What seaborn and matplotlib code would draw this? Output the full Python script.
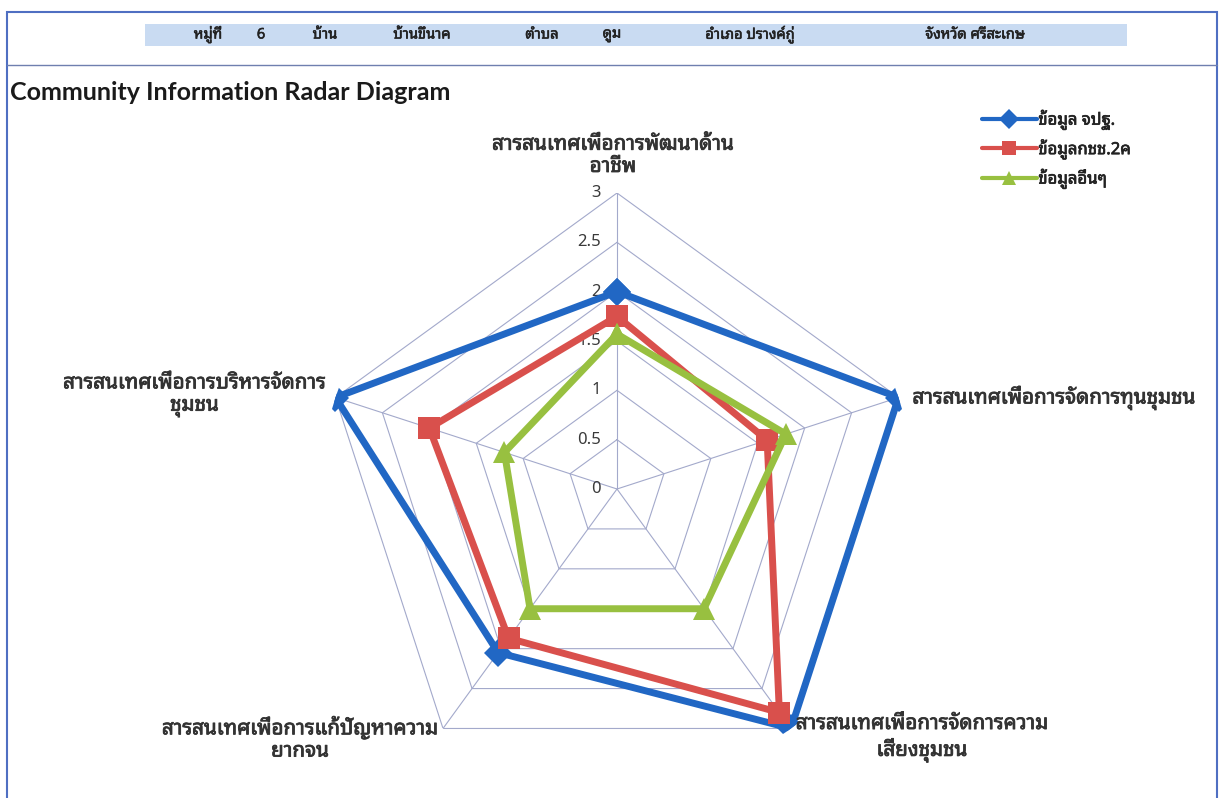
import numpy as np
import pandas as pd
import matplotlib
matplotlib.use("Agg")
import matplotlib.pyplot as plt
import matplotlib.patheffects as pe
from matplotlib.lines import Line2D
from matplotlib.patches import Rectangle
import seaborn as sns

# data
categories = [
    "สารสนเทศเพื่อการพัฒนาด้าน\nอาชีพ",
    "สารสนเทศเพื่อการจัดการทุนชุมชน",
    "สารสนเทศเพื่อการจัดการความ\nเสี่ยงชุมชน",
    "สารสนเทศเพื่อการแก้ปัญหาความ\nยากจน",
    "สารสนเทศเพื่อการบริหารจัดการ\nชุมชน",
]
series_names = ["ข้อมูล จปฐ.", "ข้อมูลกชช.2ค", "ข้อมูลอื่นๆ"]
jpt_values = [2.0, 3.0, 3.0, 2.05, 3.0]
kchch_values = [1.75, 1.6, 2.8, 1.87, 2.0]
other_values = [1.57, 1.8, 1.5, 1.5, 1.2]
r_ticks = [0, 0.5, 1, 1.5, 2, 2.5, 3]
r_tick_labels = ["0", "0.5", "1", "1.5", "2", "2.5", "3"]
header_items = ["หมู่ที่", "6", "บ้าน", "บ้านขึนาค", "ตำบล", "ดูม",
                "อำเภอ ปรางค์กู่", "จังหวัด ศรีสะเกษ"]
header_x = [208, 261, 325, 422, 542, 612, 750, 975]

sns.set_theme(style="white")
thai = ["Noto Sans Thai Looped", "Sarabun", "Noto Sans Thai", "DejaVu Sans"]
plt.rcParams["font.family"] = thai

colors = {"ข้อมูล จปฐ.": "#2167C4", "ข้อมูลกชช.2ค": "#D9504C", "ข้อมูลอื่นๆ": "#98C040"}
markers = {"ข้อมูล จปฐ.": "D", "ข้อมูลกชช.2ค": "s", "ข้อมูลอื่นๆ": "^"}
msizes = {"ข้อมูล จปฐ.": 14, "ข้อมูลกชช.2ค": 16, "ข้อมูลอื่นๆ": 16}

# fake bold for the Thai font (no bold face installed)
def heavy(color, w=0.6):
    return [pe.Stroke(linewidth=w, foreground=color), pe.Normal()]

n = len(categories)
angles = np.linspace(0, 2 * np.pi, n, endpoint=False)
closed = np.append(angles, 2 * np.pi)

rows = []
for name, vals in zip(series_names, [jpt_values, kchch_values, other_values]):
    for a, v in zip(closed, vals + vals[:1]):
        rows.append({"angle": a, "value": v, "series": name})
df = pd.DataFrame(rows)

W, H = 1222, 798
fig = plt.figure(figsize=(W / 100, H / 100), dpi=100)

# frame, header band
fig.add_artist(Rectangle((7 / W, -0.05), 1210 / W, 1.05 - 12 / H, transform=fig.transFigure,
                         fill=False, edgecolor="#4F6FC2", linewidth=1.5))
fig.add_artist(Line2D([7 / W, 1217 / W], [1 - 65 / H] * 2, transform=fig.transFigure,
                      color="#6F7FAF", linewidth=1.0))
fig.add_artist(Rectangle((145 / W, 1 - 46 / H), 982 / W, 22 / H, transform=fig.transFigure,
                         facecolor="#C9DBF2", edgecolor="none"))
for txt, x in zip(header_items, header_x):
    fig.text(x / W, 1 - 35 / H, txt, ha="center", va="center", fontsize=10.5,
             color="#222222", path_effects=heavy("#222222", 0.4))

fig.text(10 / W, 1 - 93 / H, "Community Information Radar Diagram", ha="left", va="center",
         fontsize=18, fontweight="bold", family=["Lato", "DejaVu Sans"], color="#1A1A1A")

cx, cy, R = 617, 489, 296
ax = fig.add_axes([(cx - R) / W, (H - cy - R) / H, 2 * R / W, 2 * R / H], projection="polar")
ax.set_theta_offset(np.pi / 2)
ax.set_theta_direction(-1)
ax.set_ylim(0, 3)
ax.grid(False)
ax.spines["polar"].set_visible(False)
ax.set_xticks([])
ax.set_yticks([])
ax.patch.set_alpha(0)

# pentagon grid and spokes
for t in r_ticks[1:]:
    ax.plot(closed, [t] * len(closed), color="#A3A9CB", linewidth=0.8, zorder=1)
for a in angles:
    ax.plot([a, a], [0, 3], color="#A3A9CB", linewidth=0.8, zorder=1)

sns.lineplot(data=df, x="angle", y="value", hue="series", style="series",
             palette=colors, markers=markers, dashes=False, sort=False, estimator=None,
             linewidth=5, markeredgewidth=0, ax=ax, legend=False, zorder=3)
for line, name in zip(ax.get_lines()[-3:], series_names):
    line.set_markersize(msizes[name])

for t, lab in zip(r_ticks, r_tick_labels):
    ax.annotate(lab, (0, t), xytext=(-16, 0), textcoords="offset pixels",
                ha="right", va="center", fontsize=12, color="#3A3A3A", zorder=2)

label_offsets = [(-4, 16), (14, 0), (131, -10), (-143, -10), (-141, 2)]
label_ha = ["center", "left", "center", "center", "center"]
label_va = ["bottom", "center", "center", "center", "center"]
for a, lab, off, ha, va in zip(angles, categories, label_offsets, label_ha, label_va):
    ax.annotate(lab, (a, 3), xytext=off, textcoords="offset pixels", ha=ha, va=va,
                multialignment="center", fontsize=14.8, color="#333333",
                linespacing=1.15, annotation_clip=False, path_effects=heavy("#333333"))

handles = [Line2D([], [], color=colors[s], marker=markers[s], markersize=10,
                  markeredgewidth=0, linewidth=3) for s in series_names]
leg = fig.legend(handles, series_names, loc="upper left", bbox_to_anchor=(975 / W, 1 - 102 / H),
                 frameon=False, handlelength=3.3, handletextpad=0.1, labelspacing=0.45,
                 prop={"size": 12}, borderaxespad=0)
for t in leg.get_texts():
    t.set_color("#222222")
    t.set_path_effects(heavy("#222222", 0.5))

fig.savefig("out.png", dpi=100)
